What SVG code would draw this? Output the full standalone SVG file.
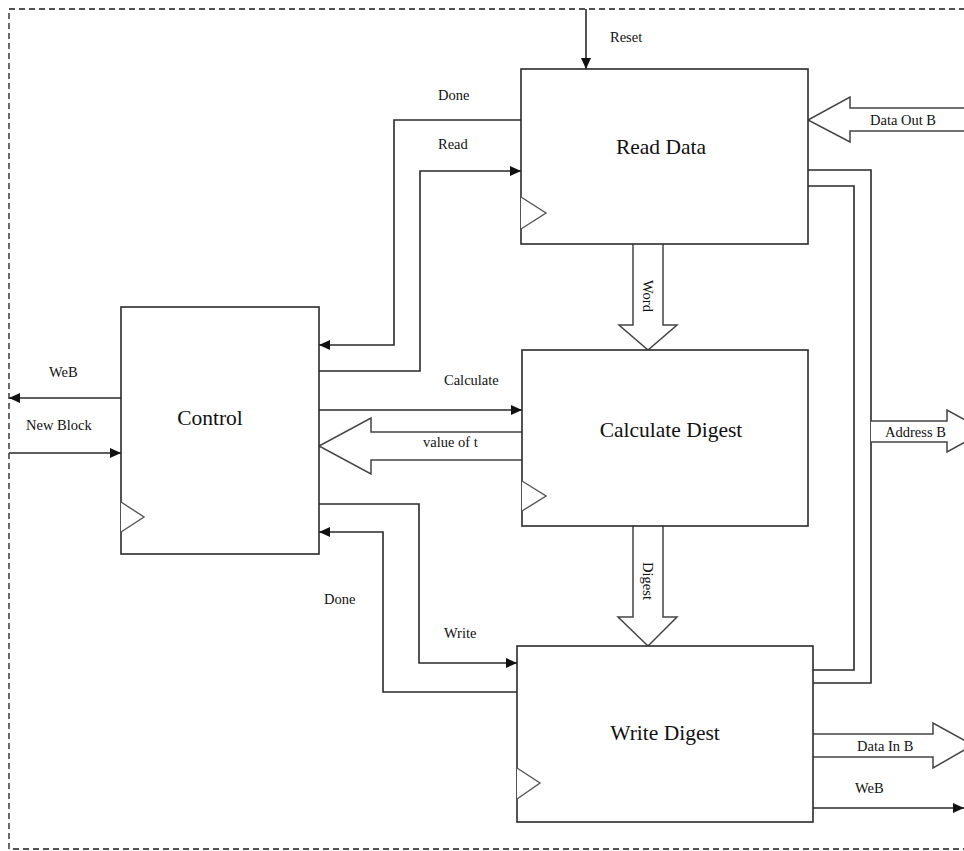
<svg xmlns="http://www.w3.org/2000/svg" width="964" height="851" viewBox="0 0 964 851">
<style>
.box{fill:#fff;stroke:#2a2a2a;stroke-width:1.6}
.clk{fill:#fff;stroke:#555;stroke-width:1.4}
.wire{fill:none;stroke:#2a2a2a;stroke-width:1.6}
.bus{fill:#fff;stroke:#444;stroke-width:1.5}
.lbl{font-family:"Liberation Serif","Times New Roman",serif;font-size:14.5px;fill:#111}
.ttl{font-family:"Liberation Serif","Times New Roman",serif;font-size:21.5px;fill:#111;text-anchor:middle}
.border{fill:none;stroke:#1a1a1a;stroke-width:1.3;stroke-dasharray:6,4}
</style>
<defs>
<marker id="ah" markerUnits="userSpaceOnUse" markerWidth="11" markerHeight="10" refX="11" refY="5" orient="auto">
<path d="M0,0 L11,5 L0,10 z" fill="#111"/>
</marker>
</defs>
<rect width="964" height="851" fill="#fff"/>
<rect class="border" x="9" y="9" width="1000" height="840"/>

<g id="connectors">
<path class="wire" d="M586,9 V69" marker-end="url(#ah)"/>
<path class="wire" d="M521,120 H394 V345 H319" marker-end="url(#ah)"/>
<path class="wire" d="M319,371 H420 V171 H521" marker-end="url(#ah)"/>
<path class="wire" d="M319,410 H522" marker-end="url(#ah)"/>
<path class="wire" d="M319,504 H419 V663 H517" marker-end="url(#ah)"/>
<path class="wire" d="M517,692 H383 V532 H319" marker-end="url(#ah)"/>
<path class="wire" d="M121,398 H9" marker-end="url(#ah)"/>
<path class="wire" d="M9,453 H121" marker-end="url(#ah)"/>
<path class="wire" d="M808,170 H871 V683 H813"/>
<path class="wire" d="M808,186 H854 V670 H813"/>
<path class="wire" d="M813,808 H964" marker-end="url(#ah)"/>
<path class="bus" d="M975,108 H850 V97 L808,120 L850,142 V131 H975"/>
<path class="bus" d="M522,432 H371 V418 L319,446 L371,474 V460 H522"/>
<path class="bus" d="M871,421 H947 V410 L985,431 L947,452 V442 H871"/>
<path class="bus" d="M813,734 H933 V723 L973,745 L933,768 V757 H813"/>
<path class="bus" d="M633,244 V325 H619 L648,350 L677,325 H663 V244"/>
<path class="bus" d="M633,526 V617 H618 L648,646 L677,617 H663 V526"/>
<text class="lbl" x="610" y="42">Reset</text>
<text class="lbl" x="438" y="100">Done</text>
<text class="lbl" x="438" y="149">Read</text>
<text class="lbl" x="870" y="125">Data Out B</text>
<text class="lbl" x="49" y="377">WeB</text>
<text class="lbl" x="26" y="430">New Block</text>
<text class="lbl" x="444" y="385">Calculate</text>
<text class="lbl" x="423" y="447">value of t</text>
<text class="lbl" x="885" y="437">Address B</text>
<text class="lbl" x="324" y="604">Done</text>
<text class="lbl" x="444" y="638">Write</text>
<text class="lbl" x="857" y="751">Data In B</text>
<text class="lbl" x="855" y="793">WeB</text>
<text class="lbl" transform="translate(648,296) rotate(90)" text-anchor="middle" dominant-baseline="central">Word</text>
<text class="lbl" transform="translate(648,581) rotate(90)" text-anchor="middle" dominant-baseline="central">Digest</text>
</g>

<g id="read-data">
<rect class="box" x="521" y="69" width="287" height="175"/>
<path class="clk" d="M521,197 L546,213 L521,229"/>
<text class="ttl" x="661" y="154">Read Data</text>
</g>

<g id="control">
<rect class="box" x="121" y="307" width="198" height="247"/>
<path class="clk" d="M121,502 L144,517 L121,532"/>
<text class="ttl" x="210" y="425">Control</text>
</g>

<g id="calculate-digest">
<rect class="box" x="522" y="350" width="286" height="176"/>
<path class="clk" d="M522,481 L546,496 L522,511"/>
<text class="ttl" x="671" y="437">Calculate Digest</text>
</g>

<g id="write-digest">
<rect class="box" x="517" y="646" width="296" height="176"/>
<path class="clk" d="M517,768 L540,783 L517,799"/>
<text class="ttl" x="665" y="740">Write Digest</text>
</g>
</svg>
